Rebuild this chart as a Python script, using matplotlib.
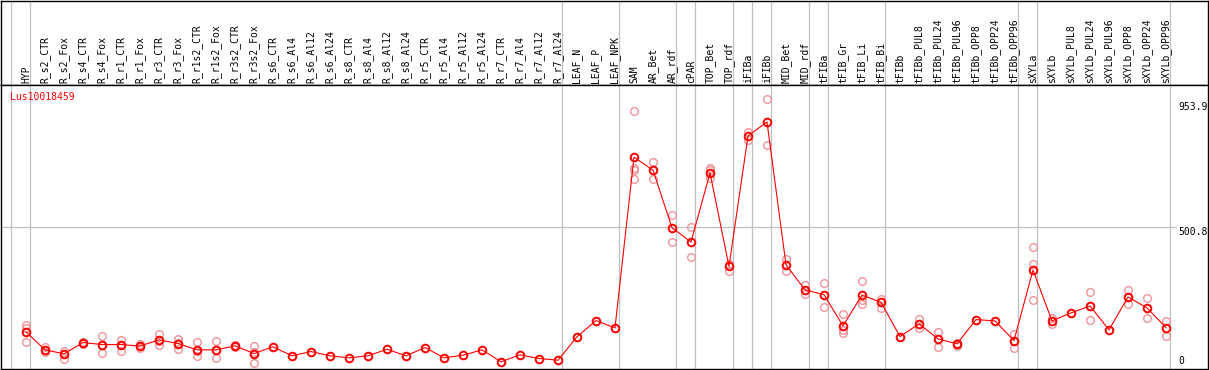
import matplotlib
matplotlib.use('Agg')
import matplotlib.pyplot as plt
from matplotlib.transforms import offset_copy, blended_transform_factory

gene = 'Lus10018459'

samples = ['HYP', 'R_s2_CTR', 'R_s2_Fox', 'R_s4_CTR', 'R_s4_Fox', 'R_r1_CTR', 'R_r1_Fox',
           'R_r3_CTR', 'R_r3_Fox', 'R_r1s2_CTR', 'R_r1s2_Fox', 'R_r3s2_CTR', 'R_r3s2_Fox',
           'R_s6_CTR', 'R_s6_Al4', 'R_s6_Al12', 'R_s6_Al24', 'R_s8_CTR', 'R_s8_Al4',
           'R_s8_Al12', 'R_s8_Al24', 'R_r5_CTR', 'R_r5_Al4', 'R_r5_Al12', 'R_r5_Al24',
           'R_r7_CTR', 'R_r7_Al4', 'R_r7_Al12', 'R_r7_Al24', 'LEAF_N', 'LEAF_P', 'LEAF_NPK',
           'SAM', 'AR_Bet', 'AR_rdf', 'cPAR', 'TOP_Bet', 'TOP_rdf', 'iFIBa', 'iFIBb',
           'MID_Bet', 'MID_rdf', 'tFIBa', 'tFIB_Gr', 'tFIB_Li', 'tFIB_Bi', 'tFIBb',
           'tFIBb_PUL8', 'tFIBb_PUL24', 'tFIBb_PUL96', 'tFIBb_OPP8', 'tFIBb_OPP24',
           'tFIBb_OPP96', 'sXYLa', 'sXYLb', 'sXYLb_PUL8', 'sXYLb_PUL24', 'sXYLb_PUL96',
           'sXYLb_OPP8', 'sXYLb_OPP24', 'sXYLb_OPP96']

# sizes of the sample groups separated by grey lines
groups = [1, 28, 3, 3, 1, 2, 1, 1, 2, 1, 3, 7, 1, 7]

means = [129.7, 66.1, 52.0, 91.9, 84.8, 84.8, 79.5, 101.4, 88.3, 66.1, 66.1, 80.2, 53.0,
         76.7, 44.9, 60.1, 44.9, 37.8, 44.9, 68.2, 44.9, 74.2, 37.8, 47.0, 66.1,
         23.7, 48.4, 35.3, 29.3, 112.4, 169.6, 143.8,
         748.0, 702.0, 498.2, 447.6, 692.5, 361.4, 823.2, 872.7,
         367.4, 278.0, 261.4, 150.9, 260.4, 234.2, 113.1,
         157.9, 104.9, 87.3, 173.1, 168.5, 98.9,
         348.7, 168.5, 196.8, 221.5, 136.7, 253.3, 214.5, 144.9]

replicates = [[153.7, 144.5, 94.3], [75.3, 57.6, 66.1], [61.1, 35.3, 52.0], [95.4, 87.2],
              [114.1, 56.5, 84.8], [102.5, 61.1, 84.8], [87.3, 73.1], [121.2, 84.8, 98.0],
              [104.9, 69.6, 90.0], [92.9, 43.5, 62.0], [96.5, 36.4, 65.0], [82.3, 77.7],
              [81.3, 20.1, 57.6], [], [], [], [], [], [], [], [], [], [], [], [],
              [], [], [], [], [], [], [],
              [910.5, 711.2, 703.1, 670.2], [730.3, 670.2], [543.0, 447.6], [501.7, 394.6],
              [710.1, 703.1, 673.7], [371.0, 346.2], [838.4, 809.1], [953.9, 791.4],
              [388.6, 346.2], [296.8, 262.5], [303.8, 218.0], [194.3, 135.3, 126.1],
              [310.9, 243.8, 229.6], [246.3, 215.5], [],
              [174.2, 144.9], [129.7, 76.7], [90.8, 78.8], [], [], [122.6, 71.7],
              [431.0, 371.0, 243.8], [179.1, 159.0], [], [271.0, 173.1], [],
              [279.1, 228.6], [249.8, 179.1], [168.5, 115.5]]

y_labels = [0, 500.8, 953.9]
y_top = 1003.5

W, H = 1209, 370
plt.rcParams['font.family'] = 'DejaVu Sans Mono'
plt.rcParams['font.size'] = 7

fig = plt.figure(figsize=(W / 100, H / 100), dpi=100)


def px_rect(x0, y0, x1, y1):
    return [x0 / W, 1 - y1 / H, (x1 - x0) / W, (y1 - y0) / H]


head = fig.add_axes(px_rect(0.5, 0.5, 1207.5, 85))
ax = fig.add_axes(px_rect(0.5, 85, 1207.5, 368.5))

xlim = (-25.5 / 19, (1207.5 - 26) / 19)
for a in (head, ax):
    a.set_xlim(*xlim)
    a.set_xticks([])
    a.set_yticks([])
    for s in a.spines.values():
        s.set_linewidth(1.0)
        s.set_color('black')
head.set_ylim(0, 1)
ax.set_ylim(0, y_top)

# group separators
grid_c = '#c0c0c0'
bounds = [-1]
n = -1
for g in groups:
    n += g
    bounds.append(n)
for b in bounds:
    xb = b + 0.23 if b >= 0 else -0.8
    for a in (head, ax):
        a.axvline(xb, color=grid_c, lw=0.9, zorder=1)

# horizontal guide at the middle label
ax.plot([xlim[0], 60.55], [y_labels[1], y_labels[1]], color=grid_c, lw=0.9, zorder=1)

# sample names
tr = offset_copy(blended_transform_factory(head.transData, head.transAxes),
                 fig=fig, x=0, y=2, units='dots')
for i, name in enumerate(samples):
    head.text(i, 0, name, rotation=90, ha='center', va='bottom', transform=tr)

xs = list(range(len(samples)))
for i, reps in enumerate(replicates):
    if reps:
        ax.plot([i] * len(reps), reps, 'o', ms=5.5, mfc='none', mec='#f0949a',
                mew=1.0, zorder=2, clip_on=False)
ax.plot(xs, means, color='red', lw=0.8, marker='o', ms=5.5, mfc='none', mec='red',
        mew=1.4, zorder=3)

# value labels at the right
offsets = {0: 7, 500.8: -5, 953.9: -7.5}
for v in y_labels:
    t = offset_copy(ax.transData, fig=fig, x=0, y=offsets[v], units='dots')
    ax.text(60.63, v, '%g' % v, ha='left', va='center', transform=t)

ax.text(-0.84, 1, gene, color='red', ha='left', va='center',
        transform=offset_copy(blended_transform_factory(ax.transData, ax.transAxes),
                              fig=fig, x=0, y=-12, units='dots'))

fig.savefig('out.png', dpi=100)
